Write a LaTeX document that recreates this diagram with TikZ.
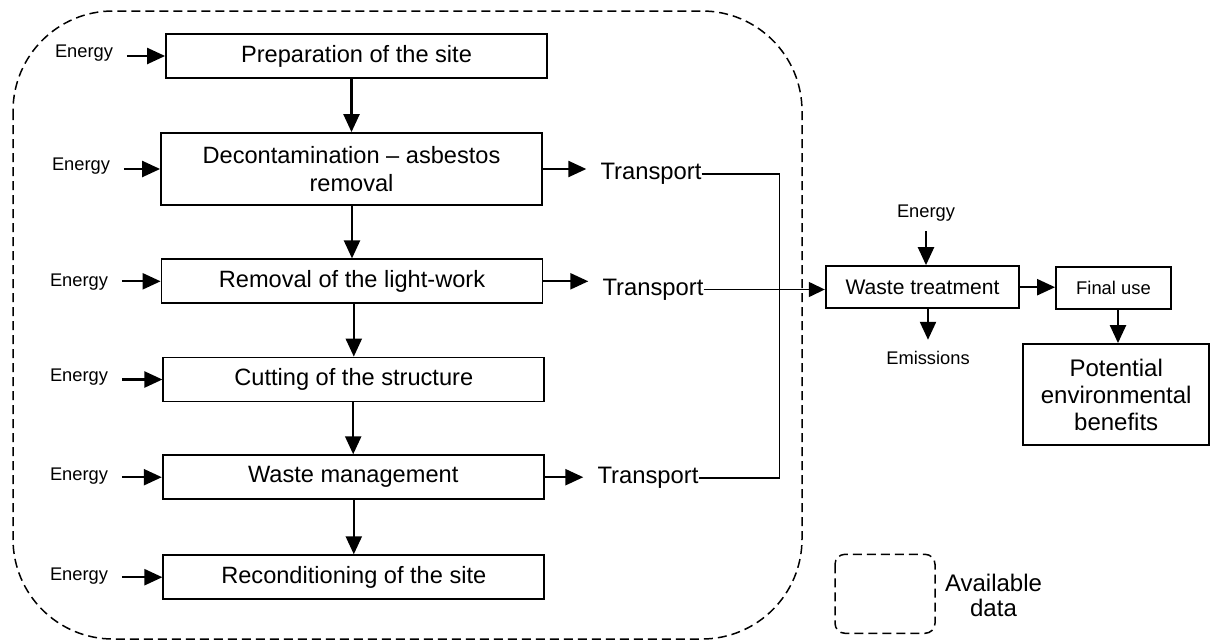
\documentclass[tikz,border=0pt]{standalone}
\usepackage{fontspec}
\setmainfont{Liberation Sans}
\usetikzlibrary{arrows.meta}
\begin{document}
\begin{tikzpicture}[x=1pt,y=-1pt,
  box/.style={draw,line width=1.8pt,inner sep=0pt,align=center},
  mainbox/.style={box,minimum width=381pt,minimum height=44pt,font=\fontsize{23.6}{28}\selectfont},
  energy/.style={inner sep=0pt,outer xsep=14pt,font=\fontsize{18.3}{22}\selectfont},
  small/.style={inner sep=0pt,font=\fontsize{18.3}{22}\selectfont},
  trans/.style={inner sep=0pt,font=\fontsize{23.8}{28}\selectfont},
  arr/.style={line width=2.3pt,-{Triangle[length=18pt,width=16pt]}},
  thinarr/.style={line width=1.4pt,-{Triangle[length=16pt,width=15pt]}},
  thin/.style={line width=1.4pt},
  dashbox/.style={draw,line width=1.5pt,dash pattern=on 9pt off 5pt}]
\useasboundingbox (0,0) rectangle (1211,643);
% available data region
\draw[dashbox,rounded corners=100pt] (13,11) rectangle (802,639);
% main chain
\node[mainbox] (b1) at (356.5,56) {Preparation of the site};
\node[mainbox,minimum height=72pt] (b2) at (351.5,169) {Decontamination -- asbestos\\removal};
\node[mainbox] (b3) at (352,281.3) {Removal of the light-work};
\node[mainbox] (b4) at (353.8,379.5) {Cutting of the structure};
\node[mainbox] (b5) at (353.2,477.2) {Waste management};
\node[mainbox] (b6) at (353.8,577.2) {Reconditioning of the site};
\foreach \a/\b in {b1/b2,b2/b3,b3/b4,b4/b5,b5/b6}
  \draw[arr] (\b.north |- \a.south) -- (\b.north);
% energy inputs
\node[energy] (e1) at (84,53.5) {Energy};
\node[energy] (e2) at (81,166) {Energy};
\node[energy] (e3) at (79,282.5) {Energy};
\node[energy] (e4) at (79,377.5) {Energy};
\node[energy] (e5) at (79,476) {Energy};
\node[energy] (e6) at (79,576) {Energy};
\foreach \i in {1,...,6}
  \draw[arr] (e\i.east |- b\i.west) -- (b\i.west);
% transport
\node[trans] (t1) at (651,174) {Transport};
\node[trans] (t2) at (653,289.5) {Transport};
\node[trans] (t3) at (648,478) {Transport};
\draw[arr,shorten >=14pt] (b2.east) -- (b2.east -| t1.west);
\draw[arr,shorten >=14pt] (b3.east) -- (b3.east -| t2.west);
\draw[arr,shorten >=14pt] (b5.east) -- (b5.east -| t3.west);
\coordinate (j) at (779.3,174);
\draw[thin] (t1.east) -- (t1.east -| j) -- (t3.east -| j) -- (t3.east);
% waste treatment
\node[box,minimum width=193.6pt,minimum height=42.3pt,font=\fontsize{21.1}{25}\selectfont] (wt) at (922.5,287.2) {Waste treatment};
\draw[thinarr] (t2.east) -- (t2.east -| wt.west);
\node[small] (ew) at (926,213) {Energy};
\draw[arr,shorten <=10pt] (ew.south) -- (ew.south |- wt.north);
\node[small] (em) at (928,357.7) {Emissions};
\draw[arr,shorten >=11pt] (em.north |- wt.south) -- (em.north);
\node[box,minimum width=115pt,minimum height=42.6pt,font=\fontsize{18.4}{22}\selectfont] (fu) at (1113.5,288) {Final use};
\draw[arr] (wt.east) -- (wt.east -| fu.west);
\node[box,minimum width=185.7pt,minimum height=101pt,font=\fontsize{24}{27}\selectfont] (pb) at (1116.2,394.5) {Potential\\environmental\\benefits};
\draw[arr] (fu.south -| 1118,0) -- (pb.north -| 1118,0);
% legend
\draw[dashbox,rounded corners=10pt] (835,554.3) rectangle (935,633.3);
\node[inner sep=0pt,align=center,font=\fontsize{24}{25.6}\selectfont] (av) at (993.5,595.3) {Available\\data};
\end{tikzpicture}
\end{document}
